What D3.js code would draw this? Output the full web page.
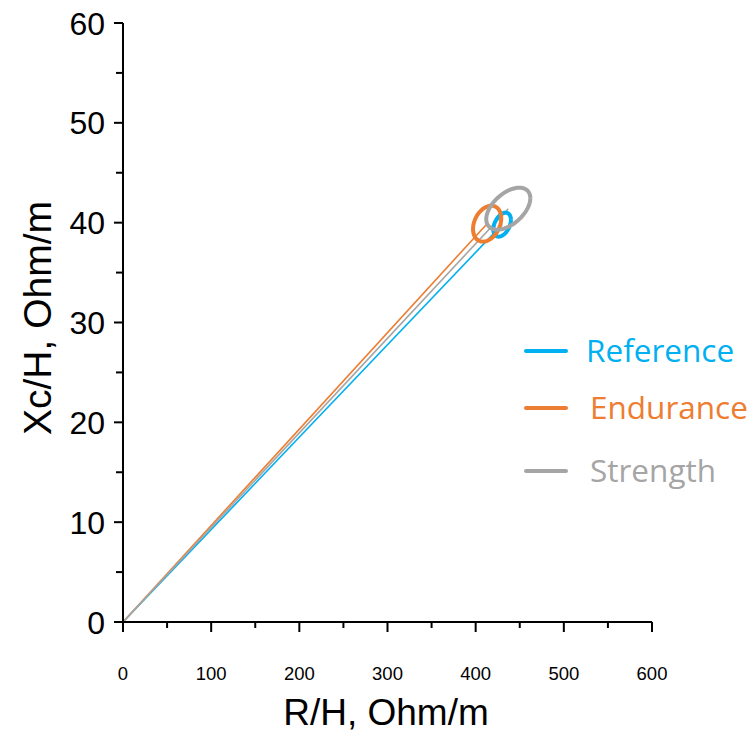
<!DOCTYPE html>
<html>
<head>
<meta charset="utf-8">
<script src="https://cdn.jsdelivr.net/npm/d3@7"></script>
<style>
  html, body { margin: 0; padding: 0; background: #fff; }
  svg { display: block; }
</style>
</head>
<body>
<svg id="chart" width="756" height="734"></svg>
<script>
// Group names and colours
const groups = ["Reference", "Endurance", "Strength"];
const colors = ["#00B0F0", "#ED7D31", "#A5A5A5"];

// Mean vector of each group (R/H, Xc/H in Ohm/m)
const meanR = [430, 413, 437];
const meanXc = [39.8, 39.9, 41.4];

// Ellipse half-extent along each axis and R–Xc correlation
const halfR = [10, 16, 25];
const halfXc = [1.2, 1.8, 2.1];
const corrRXc = [0.4, 0.3, 0.5];

// Axis ticks
const xTicks = [0, 100, 200, 300, 400, 500, 600];
const xMinorTicks = [50, 150, 250, 350, 450, 550];
const yTicks = [0, 10, 20, 30, 40, 50, 60];
const yMinorTicks = [5, 15, 25, 35, 45, 55];

const svg = d3.select("#chart");

const x = d3.scaleLinear().domain([0, 600]).range([123, 652]);
const y = d3.scaleLinear().domain([0, 60]).range([622, 23]);

const axisFont = "'Liberation Sans', Arial, sans-serif";
const legendFont = "'Open Sans', 'Noto Sans', sans-serif";

// Vector from the origin to each group mean
groups.forEach((g, i) => {
  svg.append("line")
    .attr("x1", x(0)).attr("y1", y(0))
    .attr("x2", x(meanR[i])).attr("y2", y(meanXc[i]))
    .attr("stroke", colors[i])
    .attr("stroke-width", 1.6);
});

// Tolerance ellipse around each mean
const steps = d3.range(0, 73).map(k => k * 2 * Math.PI / 72);
const lineGen = d3.line().x(d => x(d[0])).y(d => y(d[1]));
groups.forEach((g, i) => {
  const phi = Math.acos(corrRXc[i]);
  const pts = steps.map(t => [
    meanR[i] + halfR[i] * Math.cos(t),
    meanXc[i] + halfXc[i] * Math.cos(t - phi)
  ]);
  svg.append("path")
    .attr("d", lineGen(pts))
    .attr("fill", "none")
    .attr("stroke", colors[i])
    .attr("stroke-width", 4);
});

// Y axis
const yAxis = svg.append("g").attr("transform", `translate(${x(0)},0)`);
yAxis.append("line")
  .attr("x1", 0).attr("x2", 0).attr("y1", y(60)).attr("y2", y(0))
  .attr("stroke", "#000").attr("stroke-width", 2);
yAxis.selectAll(".ymaj").data(yTicks).join("line")
  .attr("x1", -9).attr("x2", 0).attr("y1", d => y(d)).attr("y2", d => y(d))
  .attr("stroke", "#000").attr("stroke-width", 2);
yAxis.selectAll(".ymin").data(yMinorTicks).join("line")
  .attr("x1", -7).attr("x2", 0).attr("y1", d => y(d)).attr("y2", d => y(d))
  .attr("stroke", "#000").attr("stroke-width", 2);
yAxis.selectAll("text").data(yTicks).join("text")
  .attr("x", -18).attr("y", d => y(d))
  .attr("dy", "0.36em")
  .attr("text-anchor", "end")
  .attr("font-family", axisFont)
  .attr("font-size", 32)
  .attr("fill", "#000")
  .text(d => d);

// X axis
const xAxis = svg.append("g").attr("transform", `translate(0,${y(0)})`);
xAxis.append("line")
  .attr("x1", x(0)).attr("x2", x(600)).attr("y1", 0).attr("y2", 0)
  .attr("stroke", "#000").attr("stroke-width", 2);
xAxis.selectAll(".xmaj").data(xTicks).join("line")
  .attr("x1", d => x(d)).attr("x2", d => x(d)).attr("y1", 0).attr("y2", 10)
  .attr("stroke", "#000").attr("stroke-width", 2);
xAxis.selectAll(".xmin").data(xMinorTicks).join("line")
  .attr("x1", d => x(d)).attr("x2", d => x(d)).attr("y1", 0).attr("y2", 6)
  .attr("stroke", "#000").attr("stroke-width", 2);
xAxis.selectAll("text").data(xTicks).join("text")
  .attr("x", d => x(d)).attr("y", 51)
  .attr("dy", "0.36em")
  .attr("text-anchor", "middle")
  .attr("font-family", axisFont)
  .attr("font-size", 18.5)
  .attr("fill", "#000")
  .text(d => d);

// Axis titles
svg.append("text")
  .attr("x", 386).attr("y", 712)
  .attr("dy", "0.36em")
  .attr("text-anchor", "middle")
  .attr("font-family", axisFont)
  .attr("font-size", 37)
  .attr("fill", "#000")
  .text("R/H, Ohm/m");

svg.append("text")
  .attr("transform", "translate(37,318) rotate(-90)")
  .attr("dy", "0.36em")
  .attr("text-anchor", "middle")
  .attr("font-family", axisFont)
  .attr("font-size", 39)
  .attr("fill", "#000")
  .text("Xc/H, Ohm/m");

// Legend
const legendY = [351, 408, 471];
const legendTextX = [586, 590, 590];
groups.forEach((g, i) => {
  svg.append("line")
    .attr("x1", 526).attr("x2", 566)
    .attr("y1", legendY[i]).attr("y2", legendY[i])
    .attr("stroke", colors[i])
    .attr("stroke-width", 4)
    .attr("stroke-linecap", "round");
  svg.append("text")
    .attr("x", legendTextX[i]).attr("y", legendY[i])
    .attr("dy", "0.36em")
    .attr("font-family", legendFont)
    .attr("font-size", 31.5)
    .attr("fill", colors[i])
    .text(g);
});
</script>
</body>
</html>
